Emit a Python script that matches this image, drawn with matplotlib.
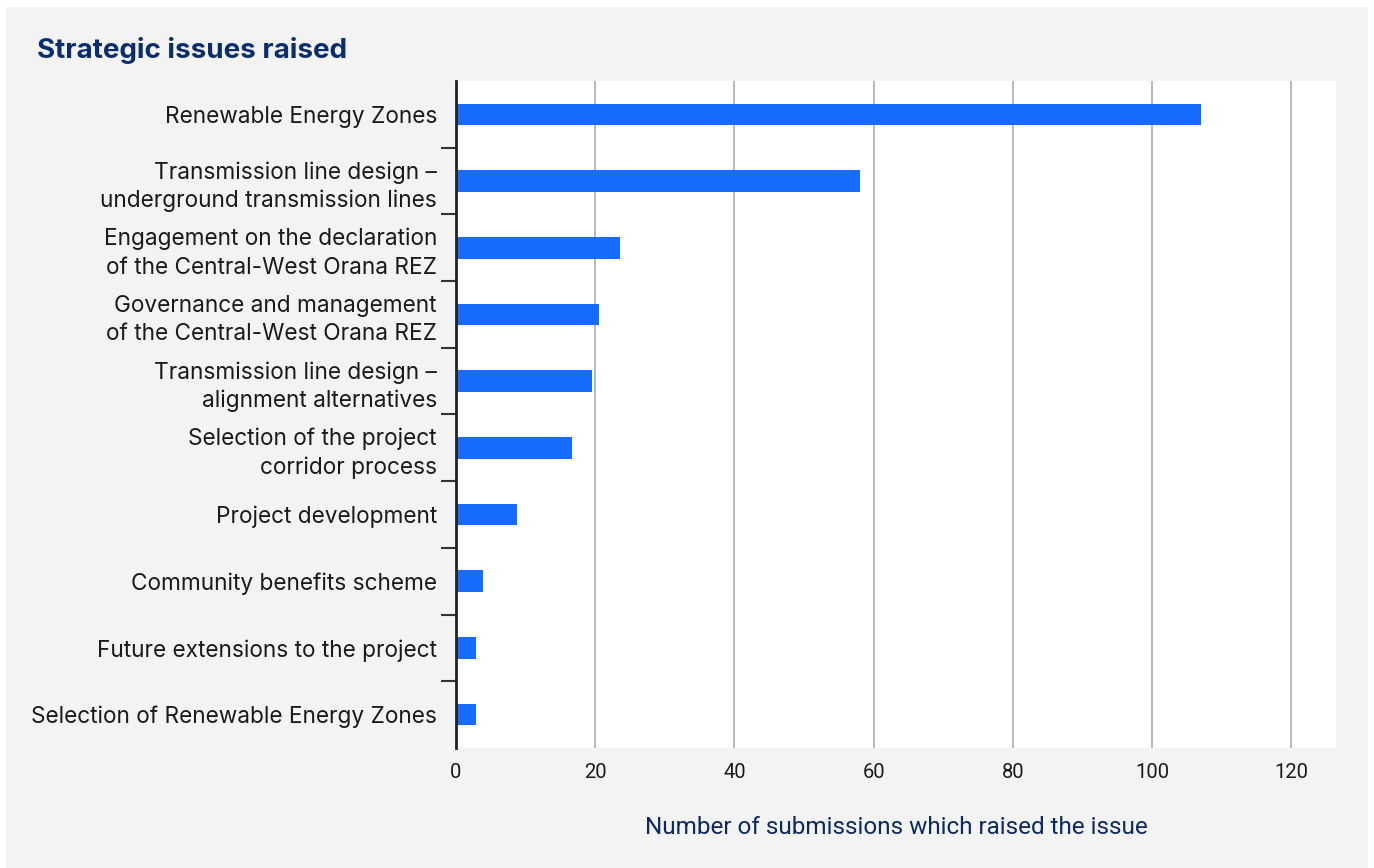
import matplotlib
matplotlib.use("Agg")
import matplotlib.pyplot as plt
from matplotlib.patches import Rectangle
from matplotlib.ticker import FixedLocator, NullFormatter

categories = [
    "Renewable Energy Zones",
    "Transmission line design –\nunderground transmission lines",
    "Engagement on the declaration\nof the Central-West Orana REZ",
    "Governance and management\nof the Central-West Orana REZ",
    "Transmission line design –\nalignment alternatives",
    "Selection of the project\ncorridor process",
    "Project development",
    "Community benefits scheme",
    "Future extensions to the project",
    "Selection of Renewable Energy Zones",
]
values = [107, 58, 23.5, 20.5, 19.6, 16.7, 8.8, 3.9, 2.9, 2.9]
xticks = [0, 20, 40, 60, 80, 100, 120]

title = "Strategic issues raised"
xlabel = "Number of submissions which raised the issue"

W, H = 1374, 868
fig = plt.figure(figsize=(W / 100, H / 100), dpi=100)
fig.patch.set_facecolor("white")
fig.patches.append(Rectangle((6 / W, 0), (1368 - 6) / W, 1 - 7 / H,
                             transform=fig.transFigure, facecolor="#f3f3f3",
                             edgecolor="none", zorder=-10))

ax = fig.add_axes([456 / W, 1 - 748 / H, (1336 - 456) / W, (748 - 81) / H])
ax.set_facecolor("white")

ypos = list(range(len(categories)))
ax.barh(ypos, values, height=0.325, color="#166cff", zorder=3)

ax.set_ylim(len(categories) - 0.5, -0.5)
ax.set_xlim(0, 126.4)

ax.set_yticks(ypos)
ax.set_yticklabels(categories, fontsize=16.3, family="Inter", color="#1a1a1a",
                   linespacing=1.36)
ax.tick_params(axis="y", which="major", length=0, pad=13.7)
ax.yaxis.set_minor_locator(FixedLocator([i + 0.5 for i in range(len(categories) - 1)]))
ax.yaxis.set_minor_formatter(NullFormatter())
ax.tick_params(axis="y", which="minor", length=11, width=1.5, color="#333333",
               direction="out")

ax.set_xticks(xticks)
ax.set_xticklabels([str(t) for t in xticks], fontsize=14.5, family="Roboto",
                   color="#1a1a1a")
ax.tick_params(axis="x", length=0, pad=11)
ax.grid(axis="x", color="#b8b8b8", linewidth=1.4, zorder=0)
ax.set_axisbelow(True)

for s in ["top", "right", "bottom"]:
    ax.spines[s].set_visible(False)
ax.spines["left"].set_color("#222222")
ax.spines["left"].set_linewidth(2)
ax.spines["left"].set_zorder(5)

ax.set_xlabel(xlabel, fontsize=17.5, family="Roboto", color="#0b2a63", labelpad=24.5)

fig.text(37 / W, 1 - 50 / H, title, fontsize=20, fontweight="bold",
         family="Inter", color="#0a2d6e", va="center", ha="left")

fig.savefig("out.png", dpi=100, facecolor=fig.get_facecolor())
